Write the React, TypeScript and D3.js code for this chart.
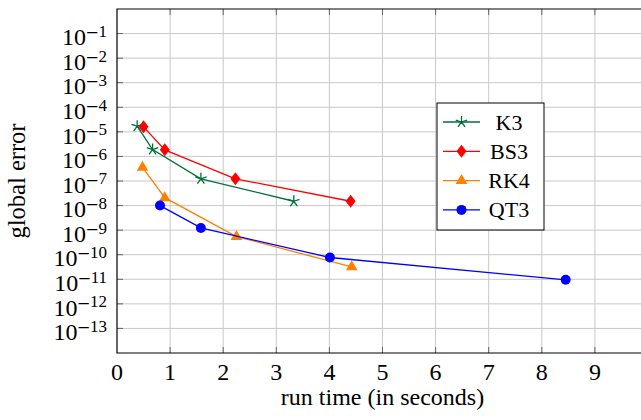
import React from "react";
import * as d3 from "d3";

const k3X = [0.38, 0.67, 1.58, 3.33];
const k3Y = [1.7e-5, 1.9e-6, 1.23e-7, 1.5e-8];
const bs3X = [0.5, 0.9, 2.23, 4.4];
const bs3Y = [1.6e-5, 1.85e-6, 1.23e-7, 1.5e-8];
const rk4X = [0.48, 0.9, 2.25, 4.42];
const rk4Y = [3.6e-7, 2.1e-8, 5.5e-10, 3.2e-11];
const qt3X = [0.81, 1.58, 4.01, 8.45];
const qt3Y = [1.0e-8, 1.23e-9, 7.7e-11, 9.5e-12];

const xTicks = [0, 1, 2, 3, 4, 5, 6, 7, 8, 9];
const yTickExps = [-1, -2, -3, -4, -5, -6, -7, -8, -9, -10, -11, -12, -13];
const seriesNames = ["K3", "BS3", "RK4", "QT3"];

const W = 641, H = 420;
const L = 117, R = 648, T = 9, B = 353;
const FONT = '"Liberation Serif", "Times New Roman", monospace';

const x = d3.scaleLinear().domain([0, 10]).range([L, R]);
const y = d3.scaleLog().domain([1e-14, 1]).range([B, T]);

const series = [
  { name: seriesNames[0], xs: k3X, ys: k3Y, color: "#00703c", marker: "star" },
  { name: seriesNames[1], xs: bs3X, ys: bs3Y, color: "#ff0000", marker: "diamond" },
  { name: seriesNames[2], xs: rk4X, ys: rk4Y, color: "#ff8000", marker: "triangle" },
  { name: seriesNames[3], xs: qt3X, ys: qt3Y, color: "#0000ff", marker: "circle" },
];

function Marker({ type, cx, cy, color }: { type: string; cx: number; cy: number; color: string }) {
  if (type === "circle") return <circle cx={cx} cy={cy} r={5} fill={color} />;
  if (type === "diamond")
    return <path d={`M${cx},${cy - 6.5}L${cx + 5},${cy}L${cx},${cy + 6.5}L${cx - 5},${cy}Z`} fill={color} />;
  if (type === "triangle")
    return <path d={`M${cx},${cy - 6.5}L${cx + 5.8},${cy + 3.5}L${cx - 5.8},${cy + 3.5}Z`} fill={color} />;
  const r = 6;
  let d = "";
  for (let i = 0; i < 5; i++) {
    const a = -Math.PI / 2 + (i * 2 * Math.PI) / 5;
    d += `M${cx},${cy}L${cx + r * Math.cos(a)},${cy + r * Math.sin(a)}`;
  }
  return <path d={d} stroke={color} strokeWidth={1.3} fill="none" />;
}

const txt = { fontFamily: FONT } as React.CSSProperties;

export default function App() {
  const line = d3.line<[number, number]>().x((d) => x(d[0])).y((d) => y(d[1]));
  const legX = 437, legY = 103, legW = 107, legH = 127;
  return (
    <svg width={W} height={H} style={{ position: "absolute", left: 0, top: 0, background: "#fff" }}>
      <defs>
        <clipPath id="clip">
          <rect x={L} y={T - 10} width={R - L + 10} height={B - T + 20} />
        </clipPath>
      </defs>
      {xTicks.filter((t) => t > 0).map((t) => (
        <line key={"gx" + t} x1={x(t)} x2={x(t)} y1={T} y2={B} stroke="#c8c8c8" strokeWidth={1} />
      ))}
      {yTickExps.map((e) => (
        <line key={"gy" + e} x1={L} x2={R} y1={y(Math.pow(10, e))} y2={y(Math.pow(10, e))} stroke="#c8c8c8" strokeWidth={1} />
      ))}
      {xTicks.filter((t) => t > 0).map((t) => (
        <g key={"tx" + t}>
          <line x1={x(t)} x2={x(t)} y1={B} y2={B - 6} stroke="#666" strokeWidth={1} />
          <line x1={x(t)} x2={x(t)} y1={T} y2={T + 6} stroke="#666" strokeWidth={1} />
        </g>
      ))}
      {yTickExps.map((e) => (
        <line key={"ty" + e} x1={L} x2={L + 6} y1={y(Math.pow(10, e))} y2={y(Math.pow(10, e))} stroke="#666" strokeWidth={1} />
      ))}
      <path d={`M${R},${T}L${L},${T}L${L},${B}L${R},${B}`} fill="none" stroke="#000" strokeWidth={1.2} />
      <g clipPath="url(#clip)">
        {series.map((s) => {
          const pts = s.xs.map((v, i) => [v, s.ys[i]] as [number, number]);
          return (
            <g key={s.name}>
              <path d={line(pts) || ""} fill="none" stroke={s.color} strokeWidth={1.3} />
              {pts.map((p, i) => (
                <Marker key={i} type={s.marker} cx={x(p[0])} cy={y(p[1])} color={s.color} />
              ))}
            </g>
          );
        })}
      </g>
      {xTicks.map((t) => (
        <text key={"lx" + t} x={x(t)} y={380} textAnchor="middle" fontSize={24} fill="#000" style={txt}>
          {t}
        </text>
      ))}
      {yTickExps.map((e) => (
        <text key={"ly" + e} x={107} y={y(Math.pow(10, e)) + 11.7} textAnchor="end" fontSize={24} fill="#000" style={txt}>
          10
          <tspan fontSize={22} dy={-5}>{"\u2212"}</tspan>
          <tspan fontSize={17} dy={-3.3}>{String(Math.abs(e))}</tspan>
        </text>
      ))}
      <text x={(L + R) / 2} y={405} textAnchor="middle" fontSize={24} fill="#000" style={txt}>
        run time (in seconds)
      </text>
      <text transform={`translate(25,${(T + B) / 2}) rotate(-90)`} textAnchor="middle" fontSize={24.5} fill="#000" style={txt}>
        global error
      </text>
      <rect x={legX} y={legY} width={legW} height={legH} fill="#fff" stroke="#000" strokeWidth={1} />
      {series.map((s, i) => {
        const cy = legY + 19 + i * 29.3;
        return (
          <g key={"leg" + s.name}>
            <line x1={443} x2={480} y1={cy} y2={cy} stroke={s.color} strokeWidth={1.3} />
            <Marker type={s.marker} cx={461.5} cy={cy} color={s.color} />
            <text x={509} y={cy + 7.5} textAnchor="middle" fontSize={22} fill="#000" style={txt}>
              {s.name}
            </text>
          </g>
        );
      })}
    </svg>
  );
}
